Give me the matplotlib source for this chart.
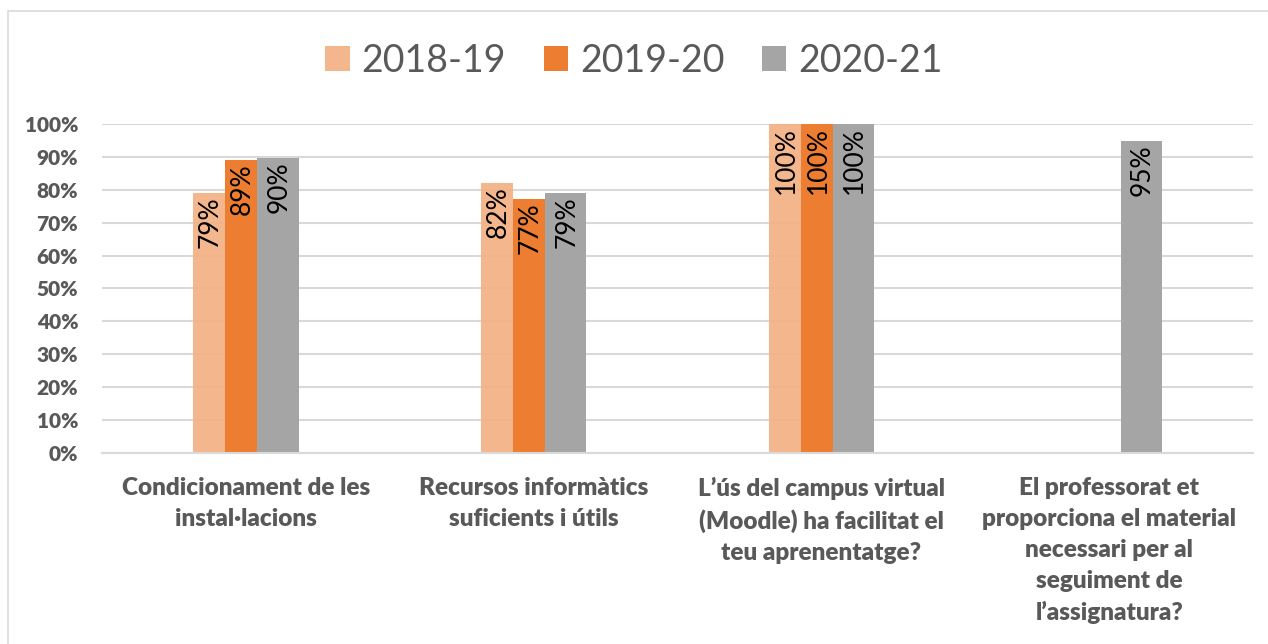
import numpy as np
import matplotlib
matplotlib.use("Agg")
from matplotlib import pyplot as plt
from matplotlib.patches import Rectangle

categories = [
    "Condicionament de les\ninstal·lacions",
    "Recursos informàtics\nsuficients i útils",
    "L’ús del campus virtual\n(Moodle) ha facilitat el\nteu aprenentatge?",
    "El professorat et\nproporciona el material\nnecessari per al\nseguiment de\nl’assignatura?",
]
series = ["2018-19", "2019-20", "2020-21"]
v_1819 = [79.0, 82.1, 100.0, np.nan]
v_1920 = [89.1, 77.2, 100.0, np.nan]
v_2021 = [89.7, 79.0, 100.0, 94.8]
colors = ["#F4B183", "#ED7D31", "#A5A5A5"]

plt.rcParams['font.family'] = ['Lato', 'DejaVu Sans']
txt = "#595959"

fig = plt.figure(figsize=(12.68, 6.44), dpi=100)
ax = fig.add_axes([0.0804, 0.2966, 0.908, 0.5109])

# outer frame
fig.patches.append(Rectangle((8 / 1268, -0.01), 1.1, 1 - 11 / 644 + 0.01,
                             transform=fig.transFigure, fill=False,
                             edgecolor="#D9D9D9", lw=1.2))

x = np.arange(len(categories))
offsets = [-0.183, -0.071, 0.040]
widths = [0.112, 0.112, 0.143]
alphas = [0.92, 1.0, 1.0]
for vals, off, w, c, a, name in zip([v_1819, v_1920, v_2021], offsets, widths,
                                    colors, alphas, series):
    bars = ax.bar(x + off, vals, w, align="edge", color=c, alpha=a,
                  label=name, zorder=2)
    for b, v in zip(bars, vals):
        if np.isnan(v):
            continue
        ax.text(b.get_x() + b.get_width() / 2 + 0.004, v - 1.0, "%d%%" % round(v),
                rotation=90, ha="center", va="top", fontsize=19,
                color="black", zorder=3)

ax.set_xlim(-0.5, 3.5)
ax.set_ylim(0, 100)
ax.set_yticks(np.arange(0, 101, 10))
ax.set_yticklabels(["%d%%" % t for t in range(0, 101, 10)],
                   fontsize=15, fontweight="heavy", color=txt)
ax.set_xticks(x)
ax.set_xticklabels(categories, fontsize=17.5, fontweight="heavy", color=txt,
                   linespacing=1.5, va="top")
ax.tick_params(axis="both", length=0)
ax.tick_params(axis="x", pad=17)
ax.tick_params(axis="y", pad=17)
ax.grid(axis="y", color="#D9D9D9", lw=1.5, zorder=0)
for s in ["top", "right", "left"]:
    ax.spines[s].set_visible(False)
ax.spines["bottom"].set_color("#D9D9D9")
ax.spines["bottom"].set_linewidth(1.5)

leg = fig.legend(loc="center", bbox_to_anchor=(0.5, 1 - 61 / 644), ncol=3,
                 frameon=False, fontsize=27, handlelength=0.65, handleheight=0.65,
                 handletextpad=0.32, columnspacing=1.0)
for t in leg.get_texts():
    t.set_color(txt)

fig.savefig("out.png", dpi=100)
